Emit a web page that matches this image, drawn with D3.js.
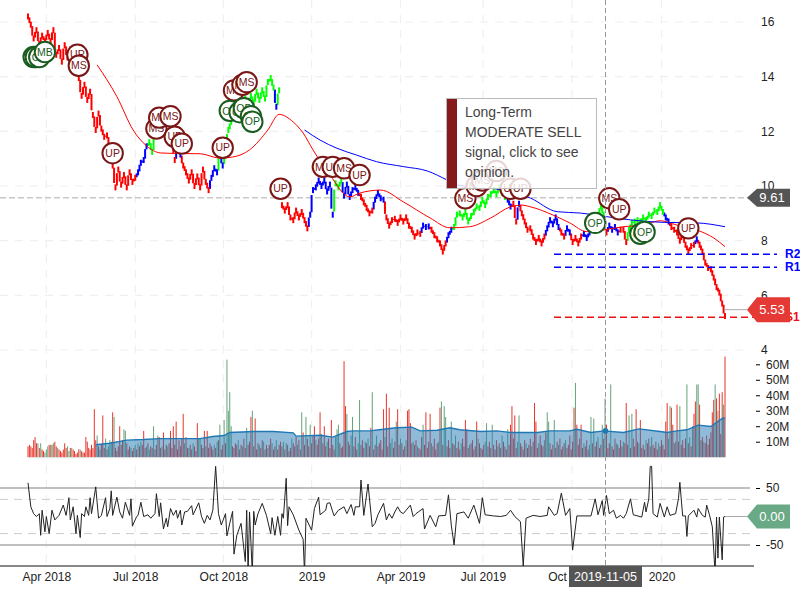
<!DOCTYPE html>
<html>
<head>
<meta charset="utf-8">
<style>
html,body{margin:0;padding:0;background:#fff;}
svg{display:block;font-family:"Liberation Sans",Arial,sans-serif;}
</style>
<script src="https://cdnjs.cloudflare.com/ajax/libs/d3/7.8.5/d3.min.js"></script>
</head>
<body>
<svg id="chart" width="800" height="600"></svg>
<script>
// ---------- DATA ----------
const tickDayIndex = [13, 76, 138.5, 201, 264, 322.5, 385.6, 449];
const tickLabels = ["Apr 2018","Jul 2018","Oct 2018","2019","Apr 2019","Jul 2019","Oct 2019","2020"];
const priceTicks = [4,6,8,10,12,14,16];
const volumeTicks = [10,20,30,40,50,60];
const cciTicks = [-50,50];
const cciBands = [-30,30];

// closing price, one sample every two trading days
const priceStepDays = 2;
const prices = [
16.2,15.9,15.4,15.7,15.2,15.5,15.3,15.6,15.3,15.7,
14.8,15.05,14.55,15.15,14.7,15.0,14.55,14.3,13.95,13.3,
13.7,13.15,13.45,12.6,12.05,12.65,12.1,11.8,11.85,11.3,
10.75,9.95,10.6,10.05,10.4,9.95,10.5,10.15,10.3,10.5,
10.85,10.95,11.45,11.6,11.25,11.95,12.2,12.5,12.25,12.55,
12.4,12.2,10.95,11.4,11.15,10.75,10.5,10.2,10.5,10.0,
10.35,9.95,10.6,10.15,9.85,10.3,10.65,10.5,11.15,10.75,
11.3,12.05,12.35,12.85,12.6,13.05,12.8,13.2,12.95,13.3,
13.05,13.45,13.15,13.5,13.2,13.8,13.95,13.6,12.9,13.5,
9.3,9.1,9.3,8.85,8.75,9.1,8.85,9.05,8.75,8.45,
8.95,9.85,9.95,10.2,10.0,10.2,9.8,10.05,8.95,10.1,
9.95,10.2,9.65,10.05,9.6,9.85,9.95,9.75,9.6,9.4,
9.2,9.0,9.1,9.5,9.75,9.55,9.5,8.85,8.55,8.75,
8.8,8.65,8.85,8.7,8.85,8.55,8.4,8.15,8.3,8.25,
8.55,8.5,8.52,8.4,8.2,8.05,7.9,7.6,7.9,8.2,
8.4,8.5,8.95,9.0,8.85,9.05,8.7,8.9,9.05,9.25,
9.2,9.5,9.3,9.6,9.7,9.85,9.7,9.95,9.75,9.6,
9.5,9.25,9.35,8.7,9.35,9.0,8.7,8.4,8.45,8.15,
7.95,8.1,7.9,8.15,8.45,8.75,8.6,8.85,8.5,8.3,
8.15,8.45,8.3,7.95,8.1,7.9,8.15,8.25,8.1,8.3,
8.6,8.85,8.95,9.25,8.95,8.3,8.55,8.4,8.5,8.3,
8.4,8.4,7.95,8.4,8.65,8.7,8.75,8.7,8.85,8.75,
8.95,8.9,9.1,9.05,9.3,9.05,8.85,8.7,8.5,8.4,
8.3,8.0,8.2,7.85,7.6,7.8,7.85,8.05,7.85,7.6,
7.2,7.0,6.95,6.65,6.3,6.1,5.7,5.24
];
// colour runs of the price line: first sample of each run and its colour
const runStarts = [0,39,43,52,53,55,65,68,69,70,88,89,90,100,109,112,118,123,127,140,143,149,151,170,172,174,175,184,189,191,193,197,200,205,206,210,213,226,228,237,238];
const runColors = ["r","b","g","r","b","r","b","g","b","g","b","g","r","b","g","b","r","b","r","b","r","b","g","b","r","b","r","b","r","b","r","b","g","r","b","r","g","b","r","b","r"];
const runBreaks = [90];

const shortMaDay = [49,63,74.5,84,94,106,122,136,145,157,170,178,188,195,202,214,228,235,250,266,285,299,313,328,342,350,356,372,384,396,408,422,436,448,460,474,486,494];
const shortMaVal = [14.43,13.27,12.05,11.47,11.21,11.19,11.18,11.02,11.06,11.32,12.05,12.62,12.34,11.94,11.32,10.40,9.60,9.74,9.85,9.42,8.83,8.47,8.51,8.83,9.24,9.30,9.24,8.94,8.65,8.33,8.39,8.51,8.57,8.73,8.57,8.39,8.10,7.78];
const longMaDay = [196,207,219,233,247,266,283,297,304,337,356,375,391.5,410,427,450,474,494];
const longMaVal = [12.05,11.68,11.38,11.13,10.89,10.71,10.55,10.22,10.04,9.85,9.56,9.06,9.01,8.88,8.76,8.67,8.65,8.51];

// daily volume in millions: positive = down day, negative = up day
const signedVolume = [
7,8,7,6,11,13,9,-9,6,-9,
5,4,-3,-5,-7,8,-8,8,-9,10,
7,-6,5,4,3,5,9,6,-7,-4,
6,-6,5,4,2,3,5,-5,4,3,
3,13,10,6,5,8,6,31,11,-14,
7,-5,8,27,6,-12,5,-7,-11,-10,
29,-26,6,4,7,20,8,11,-18,-17,
9,5,7,-6,4,6,-8,5,-9,7,
-10,8,17,6,-7,9,-5,7,6,-20,
5,8,-14,13,6,-7,16,5,8,-7,
9,17,6,20,8,23,5,11,7,12,
28,-9,13,6,-6,8,5,-9,7,4,
22,-12,-12,8,6,17,-7,17,6,9,
7,5,-8,6,-10,11,-21,5,8,-24,
9,-63,-30,-42,-20,7,6,9,8,-11,
5,8,-7,12,6,-19,8,10,26,-30,
7,25,5,9,-8,6,11,-10,5,8,
-6,8,12,-9,5,7,-11,5,8,10,
7,-10,5,-9,8,4,6,-12,9,7,
13,-8,11,5,-29,16,8,-26,12,7,
-21,9,14,20,-11,8,12,29,-15,9,
20,7,-10,12,6,24,8,5,-13,-18,
-21,9,6,7,62,33,-28,10,8,-14,
-26,7,13,5,-9,-37,8,11,6,-10,
9,-12,7,19,-42,5,8,-14,7,9,
11,5,31,-13,41,7,32,-9,-12,6,
10,-23,31,8,-12,9,5,7,-11,30,
31,22,9,-10,8,11,-7,6,5,13,
-21,8,29,6,10,28,-9,7,12,5,
9,-10,32,-36,8,-33,-26,7,11,6,
-23,9,8,-14,6,10,5,-9,12,7,
24,18,6,-8,9,11,5,7,23,-12,
9,6,5,8,-10,-22,7,10,6,-21,
8,5,11,-7,9,6,-14,10,7,5,
-18,8,21,33,12,27,6,-10,-27,9,
7,5,11,-9,6,8,12,-7,10,35,
23,6,-9,14,8,7,-11,16,-29,-23,
9,5,8,-24,6,10,-8,12,5,7,
9,-11,6,8,14,5,10,32,-48,21,
8,12,21,6,-9,7,11,5,-8,-26,
9,-25,7,10,-13,6,8,-21,12,-38,
21,6,9,-47,7,5,12,-9,8,6,
11,7,-10,9,35,8,-27,6,-28,12,
7,31,10,-9,24,6,8,5,-11,9,
12,7,-13,8,6,10,5,-9,7,11,
8,5,23,35,-12,-33,32,21,9,-10,
34,10,-33,8,11,6,12,-47,9,-13,
7,-20,28,36,-47,-47,34,11,13,-10,
9,14,8,12,16,29,37,-47,38,-30,
41,15,42,-34,65
];
const volMaDay = [48,58,70,82,93,110,122,131,139,143,160,174,188,190,207,216,226,230,242,249,261,272,278,290,299,306,321,332,342,361,370,384,389,399,408,422,433,448,453,460,467,475,484,492,494];
const volMaVal = [8,9,11,11.4,12,12,12,13.4,14,16,16.6,16.6,15.7,13.6,14.2,13,16.6,17,17,17.7,19,19.4,17,17.4,19,17.7,16.6,17,16,16,17,17,18,16,17,16,18.3,16.6,16,17,17.7,20.7,19.8,25,25.4];

const cciDay = [0,2,4,6,8,9,10,12,13,15,17,19,22,25,27,29,30,32,34,35,37,38,40,41,43,44,45,46,48,50,52,55,56,58,59,60,63,65,67,69,72,73,74,77,78,80,82,85,87,90,91,93,94,96,98,99,101,103,105,106,108,109,111,113,116,117,121,123,125,127,129,131,133,135,137,140,141,143,145,146,148,151,154,155,156,157,159,160,161,163,166,169,172,173,175,177,179,180,181,183,184,185,188,192,195,196,197,201,203,206,207,211,212,214,216,217,220,224,226,229,231,232,235,236,238,241,244,246,248,252,254,256,258,260,262,264,266,268,271,273,275,280,281,285,289,291,296,298,300,302,304,309,312,316,320,322,324,330,335,339,342,345,349,351,353,358,363,368,369,373,375,378,381,384,386,389,399,402,404,407,408,410,412,415,417,420,422,424,427,429,435,437,438,440,441,442,443,446,448,451,453,455,459,461,462,464,466,467,468,472,474,475,478,480,481,483,485,487,488,489,490,492,493,494];
const cciVal = [59,17,5,0,5,-33,11,-27,0,-30,11,-6,2,20,2,33,-6,17,-30,2,-37,5,0,17,2,33,5,20,52,-3,2,33,0,14,45,2,34,8,-3,25,2,31,-17,0,2,25,0,3,-3,5,40,0,24,-22,-3,-18,14,2,11,-3,11,-15,8,9,19,3,24,0,-12,2,-6,11,88,5,-15,5,-34,-12,9,-66,-33,-12,-79,11,-100,8,-100,9,-15,5,23,2,-30,-2,-33,0,-33,5,-3,67,-16,17,3,-24,-40,-100,-3,-24,14,34,3,11,23,24,8,1,11,17,5,21,2,17,17,64,2,57,-18,-12,3,23,-6,5,-3,8,17,8,5,11,20,0,5,14,-22,2,-18,1,2,38,-15,-50,5,8,-3,20,-12,33,3,1,0,2,11,0,-9,-87,-3,2,0,2,17,2,5,41,2,14,-59,1,1,31,3,28,2,37,5,11,-3,2,-3,5,31,3,-1,25,8,31,88,88,5,-1,23,-1,17,2,5,31,60,1,1,-35,1,11,-1,14,2,-1,20,3,-18,-100,-1,-73,-1,-76,-1,0];

const levelNames = ["R2","R1","S1"];
const levelValues = [7.5,7.03,5.2];
const levelColors = ["#0000ff","#0000ff","#ee1111"];

const markerLabels = ["OP","OP","OP","MB","UP","MS","UP","MS","MS","MS","UP","UP","UP","MS","MS","MS","OP","OP","OP","OP","OP","UP","MS","UP","MS","UP","MS","MS","MS","MS","UP","UP","OP","MS","UP","OP","OP","UP"];
const markerDay  = [4,5.5,8,12,35,36,60,91,93,101,104,109,138,146,152,155,143,150,153,158,159,179,209,216,224,235,310,318,322,332,342,349,402,412,419,434,437,468];
const markerVal  = [14.72,14.72,14.72,14.9,14.8,14.4,11.2,12.1,12.5,12.55,11.8,11.55,11.4,13.5,13.7,13.8,12.75,12.7,12.85,12.55,12.35,9.9,10.7,10.7,10.65,10.4,9.55,10.0,10.2,10.55,9.9,9.9,8.65,9.55,9.15,8.25,8.32,8.45];

const lastPrice = 5.53, crossPrice = 9.61, lastCci = 0;
const crossDay = 409.3, crossDate = "2019-11-05";
const tooltipLines = ["Long-Term","MODERATE SELL","signal, click to see","opinion."];

// ---------- SCALES ----------
const svg = d3.select("#chart");
const x = d3.scaleLinear().domain([0,494]).range([28,725]);
const yP = d3.scaleLinear().domain([4,16]).range([350,22]);
const yV = d3.scaleLinear().domain([0,60]).range([457.2,364.3]);
const yC = d3.scaleLinear().domain([-50,50]).range([545,488]);
const colorOf = {r:"#ff0000",b:"#0000ff",g:"#00ff00"};

// ---------- GRID ----------
const grid = svg.append("g").attr("stroke","#f0f0f0").attr("stroke-width",1.2).attr("stroke-dasharray","8,7");
grid.selectAll("line.v").data(tickDayIndex).join("line").attr("class","v")
  .attr("x1",d=>x(d)).attr("x2",d=>x(d)).attr("y1",0).attr("y2",566);
grid.selectAll("line.h").data(priceTicks).join("line").attr("class","h")
  .attr("x1",0).attr("x2",750).attr("y1",d=>yP(d)).attr("y2",d=>yP(d));

// CCI guide lines
svg.append("g").selectAll("line").data(cciBands).join("line")
  .attr("x1",0).attr("x2",750).attr("y1",d=>yC(d)).attr("y2",d=>yC(d))
  .attr("stroke","#cccccc").attr("stroke-dasharray","8,6");
svg.append("g").selectAll("line").data(cciTicks).join("line")
  .attr("x1",0).attr("x2",750).attr("y1",d=>yC(d)).attr("y2",d=>yC(d))
  .attr("stroke","#aaaaaa").attr("stroke-width",1.5);

// crosshair
svg.append("line").attr("x1",0).attr("x2",750).attr("y1",yP(crossPrice)+1).attr("y2",yP(crossPrice)+1)
  .attr("stroke","#c8c8c8").attr("stroke-width",1.5).attr("stroke-dasharray","6,3");

// ---------- VOLUME ----------
svg.append("g").selectAll("rect").data(signedVolume).join("rect")
  .attr("x",(d,i)=>x(i)-0.5).attr("width",1)
  .attr("y",d=>yV(Math.abs(d))).attr("height",d=>yV(0)-yV(Math.abs(d)))
  .attr("fill",d=>d>0?"#e8352b":"#64a37b");
const volPts = volMaDay.map((d,i)=>[d,volMaVal[i]]);
svg.append("path").datum(volPts)
  .attr("d",d3.area().x(d=>x(d[0])).y0(yV(0)).y1(d=>yV(d[1])))
  .attr("fill","#1f77b4").attr("fill-opacity",0.5);
svg.append("path").datum(volPts)
  .attr("d",d3.line().x(d=>x(d[0])).y(d=>yV(d[1])))
  .attr("fill","none").attr("stroke","#1f77b4").attr("stroke-width",1.4);
svg.append("line").attr("x1",x(0)).attr("x2",x(494)).attr("y1",yV(0)+0.5).attr("y2",yV(0)+0.5).attr("stroke","#dddddd");

// ---------- PRICE ----------
// each sample: a short bar at its own day, plus a bar on the day between it
// and the previous sample that covers most of the move between the two.
const colorAt = k => colorOf[runColors[d3.bisectRight(runStarts,k)-1]];
const gPrice = svg.append("g").attr("stroke-width",2);
gPrice.selectAll("line.mid").data(prices).join("line").attr("class","mid")
  .attr("x1",(d,k)=>x((k-0.5)*priceStepDays)).attr("x2",(d,k)=>x((k-0.5)*priceStepDays))
  .attr("y1",(d,k)=>{
    if(k===0||runBreaks.includes(k)) return yP(d);
    const a=yP(prices[k-1]), b=yP(d);
    return a+(b-a)*0.1;
  })
  .attr("y2",(d,k)=>{
    if(k===0||runBreaks.includes(k)) return yP(d);
    const a=yP(prices[k-1]), b=yP(d);
    return a+(b-a)*0.8;
  })
  .attr("stroke",(d,k)=>colorAt(k));
gPrice.selectAll("line.own").data(prices).join("line").attr("class","own")
  .attr("x1",(d,k)=>x(k*priceStepDays)).attr("x2",(d,k)=>x(k*priceStepDays))
  .attr("y1",d=>yP(d)-3).attr("y2",d=>yP(d)+3)
  .attr("stroke",(d,k)=>colorAt(k));

const maLine = d3.line().x(d=>x(d[0])).y(d=>yP(d[1])).curve(d3.curveMonotoneX);
svg.append("path").datum(shortMaDay.map((d,i)=>[d,shortMaVal[i]])).attr("d",maLine)
  .attr("fill","none").attr("stroke","#ff0000").attr("stroke-width",1);
svg.append("path").datum(longMaDay.map((d,i)=>[d,longMaVal[i]])).attr("d",maLine)
  .attr("fill","none").attr("stroke","#0000ff").attr("stroke-width",1);

// support / resistance
levelNames.forEach((n,i)=>{
  svg.append("line").attr("x1",554).attr("x2",n==="S1"?786:777).attr("y1",yP(levelValues[i])).attr("y2",yP(levelValues[i]))
    .attr("stroke",levelColors[i]).attr("stroke-width",1.5).attr("stroke-dasharray","7,4");
  svg.append("text").attr("x",785).attr("y",yP(levelValues[i])+4).text(n)
    .attr("fill",levelColors[i]).attr("font-size",12).attr("font-weight","bold");
});

// ---------- CCI ----------
svg.append("clipPath").attr("id","cciClip").append("rect").attr("x",0).attr("y",460).attr("width",750).attr("height",106);
svg.append("path").datum(cciDay.map((d,i)=>[d,cciVal[i]]))
  .attr("clip-path","url(#cciClip)")
  .attr("d",d3.line().x(d=>x(d[0])).y(d=>yC(d[1])))
  .attr("fill","none").attr("stroke","#222222").attr("stroke-width",1);

// ---------- AXES ----------
function styleAxis(g){
  g.select(".domain").remove();
  g.selectAll("text").attr("font-family","'Liberation Sans',Arial,sans-serif").attr("fill","#222");
}
svg.append("g").attr("transform","translate(756,0)")
  .call(d3.axisRight(yP).tickValues(priceTicks).tickSize(0).tickPadding(5).tickFormat(d3.format("d")))
  .call(styleAxis).selectAll("text").attr("font-size",12);
svg.append("g").attr("transform","translate(756,0)")
  .call(d3.axisRight(yV).tickValues(volumeTicks).tickSize(4).tickPadding(6).tickFormat(d=>d+"M"))
  .call(styleAxis).selectAll("text").attr("font-size",12);
svg.append("g").attr("transform","translate(756,0)")
  .call(d3.axisRight(yC).tickValues(cciTicks).tickSize(4).tickPadding(6).tickFormat(d=>String(d)))
  .call(styleAxis).selectAll("text").attr("font-size",12);
const gx = svg.append("g").attr("transform","translate(0,566)")
  .call(d3.axisBottom(x).tickValues(tickDayIndex).tickSize(0).tickPadding(6).tickFormat((d,i)=>tickLabels[i]))
  .call(styleAxis);
gx.selectAll("text").attr("font-size",12);
svg.append("line").attr("x1",0).attr("x2",754).attr("y1",566).attr("y2",566).attr("stroke","#111").attr("stroke-width",1);

// ---------- MARKERS ----------
const red="#7a1616", green="#1a5c20";
const mk = svg.append("g").selectAll("g").data(markerLabels).join("g")
  .attr("transform",(d,i)=>`translate(${x(markerDay[i])},${yP(markerVal[i])})`);
mk.append("circle").attr("r",10.2).attr("fill","#fff").attr("stroke-width",2)
  .attr("stroke",d=>(d==="OP"||d==="MB")?green:red);
mk.append("text").text(d=>d).attr("text-anchor","middle").attr("dy","0.35em").attr("font-size",10.5)
  .attr("fill",d=>(d==="OP"||d==="MB")?green:red);

// crosshair vertical and dot
svg.append("line").attr("x1",x(crossDay)).attr("x2",x(crossDay)).attr("y1",0).attr("y2",566)
  .attr("stroke","#999").attr("stroke-dasharray","5,3");
svg.append("circle").attr("cx",x(crossDay)).attr("cy",yV(17)).attr("r",2.8).attr("fill","#1f77b4");

// ---------- TAGS ----------
function tag(value,label,fill,h,lineFrom){
  const cy = value;
  if(lineFrom) svg.append("line").attr("x1",lineFrom).attr("x2",747).attr("y1",cy).attr("y2",cy).attr("stroke","#aaa");
  const p = d3.path(); p.moveTo(747,cy); p.lineTo(757,cy-h/2); p.lineTo(790,cy-h/2); p.lineTo(790,cy+h/2); p.lineTo(757,cy+h/2); p.closePath();
  svg.append("path").attr("d",p.toString()).attr("fill",fill);
  svg.append("text").attr("x",772).attr("y",cy).attr("dy","0.36em").attr("text-anchor","middle").attr("fill","#fff").attr("font-size",13).text(label);
}
tag(yP(crossPrice)+1,crossPrice.toFixed(2),"#555555",18);
tag(yP(lastPrice)+1.5,lastPrice.toFixed(2),"#e53935",25,725);
tag(yC(lastCci),lastCci.toFixed(2),"#6aa985",24,725);

svg.append("rect").attr("x",569).attr("y",566).attr("width",73).attr("height",21).attr("fill","#555555");
svg.append("text").attr("x",605.5).attr("y",576.5).attr("dy","0.36em").attr("text-anchor","middle").attr("fill","#fff").attr("font-size",12.5).text(crossDate);

// ---------- TOOLTIP ----------
const tip = svg.append("g");
tip.append("rect").attr("x",446.5).attr("y",98.5).attr("width",150).attr("height",90).attr("fill","#fff").attr("fill-opacity",0.82).attr("stroke","#bbbbbb");
tip.append("rect").attr("x",447).attr("y",99).attr("width",10).attr("height",89).attr("fill","#861a1a");
tip.selectAll("text").data(tooltipLines).join("text").attr("x",465).attr("y",(d,i)=>117+i*20)
  .attr("font-size",14).attr("fill","#444").text(d=>d);
</script>
</body>
</html>
